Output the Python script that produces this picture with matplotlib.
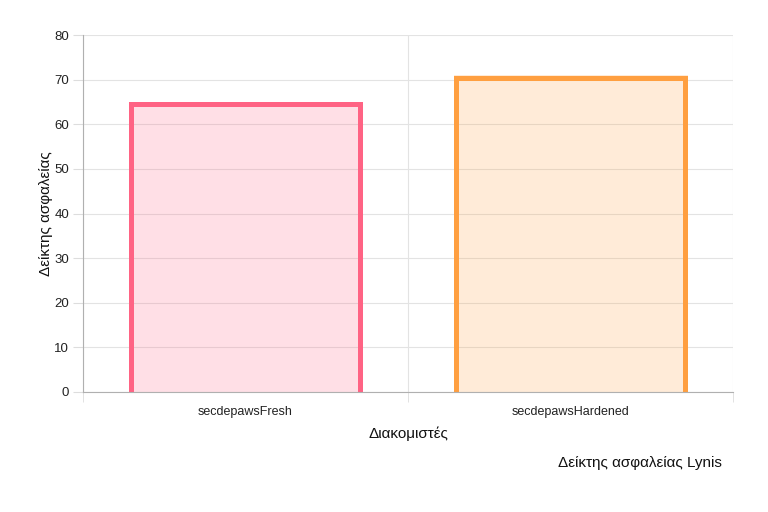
import matplotlib.pyplot as plt
import numpy as np

plt.rcParams['font.family'] = ['Liberation Sans', 'DejaVu Sans']

servers = ["secdepawsFresh", "secdepawsHardened"]
scores = [65, 71]
borderColors = ["#ff6384", "#ff9f40"]
fillColors = [(1.0, 0.388, 0.518, 0.2), (1.0, 0.624, 0.251, 0.2)]

fig = plt.figure(figsize=(7.68, 5.12), dpi=100)
ax = fig.add_axes([83/768, 120/512, 650/768, 357/512])

x = np.arange(len(servers))
barWidth = 0.72
ax.set_xlim(-0.5, len(servers) - 0.5)
ax.set_ylim(0, 80)

ax.bar(x, scores, width=barWidth, color=fillColors, linewidth=0, zorder=3)

# chart.js style border: inside the bar, no bottom edge
borderPx = 5
dx = borderPx / 2 / (650 / (len(servers)))
dy = borderPx / 2 / (357 / 80)
for xi, val, col in zip(x, scores, borderColors):
    left = xi - barWidth / 2 + dx
    right = xi + barWidth / 2 - dx
    top = val - dy
    ax.plot([left, left, right, right], [0, top, top, 0], color=col,
            linewidth=borderPx * 0.72, solid_joinstyle="miter",
            solid_capstyle="butt", zorder=4)

ax.set_yticks(np.arange(0, 81, 10))
ax.set_xticks(x)
ax.set_xticklabels(servers, fontsize=9, color="#222222")
ax.tick_params(axis="y", labelsize=9.5, colors="#dddddd", labelcolor="#222222", length=7, pad=3)
ax.tick_params(axis="x", length=0, pad=10)

# category boundary gridlines + small ticks below axis
ax.set_xticks(np.arange(-0.5, len(servers), 1.0), minor=True)
ax.tick_params(axis="x", which="minor", length=7, colors="#dddddd")
ax.grid(axis="y", color="#e3e3e3", linewidth=0.8, zorder=0)
ax.grid(axis="x", which="minor", color="#e3e3e3", linewidth=0.8, zorder=0)

for side in ["top", "right"]:
    ax.spines[side].set_visible(False)
ax.spines["left"].set_color("#b0b0b0")
ax.spines["bottom"].set_color("#b0b0b0")
ax.spines["bottom"].set_zorder(5)

ax.set_ylabel("Δείκτης ασφαλείας", fontsize=11, color="#111111", labelpad=1)
ax.set_xlabel("Διακομιστές", fontsize=11, color="#111111", labelpad=6)

fig.text(722/768, 1 - 463/512, "Δείκτης ασφαλείας Lynis", ha="right", va="center", fontsize=11, color="#111111")

fig.savefig("out.png", dpi=100)
